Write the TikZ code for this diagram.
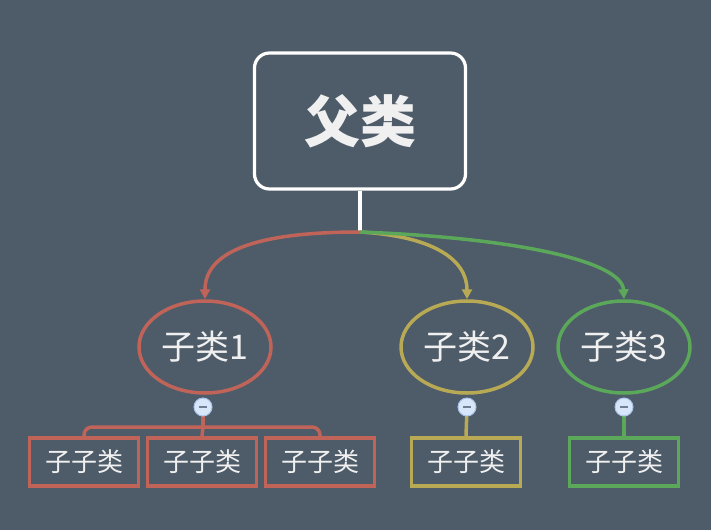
\documentclass[tikz,border=0pt]{standalone}
\usepackage{fontspec}
\newfontfamily\cjk{Noto Sans CJK SC}
\usetikzlibrary{shapes.geometric,arrows.meta,calc}
\definecolor{bg}{HTML}{4E5B68}
\definecolor{cred}{HTML}{C0645A}
\definecolor{cyel}{HTML}{B8AA55}
\definecolor{cgrn}{HTML}{5BA85B}
\definecolor{txt}{HTML}{F0F0F0}
\definecolor{minusfill}{HTML}{D8E6FA}
\definecolor{minusline}{HTML}{A9C2E8}
\definecolor{minusdash}{HTML}{6E7F96}
\begin{document}
\begin{tikzpicture}[x=1pt,y=-1pt,
  parentbox/.style={draw=white,line width=3.2pt,rounded corners=15pt,minimum width=211pt,minimum height=136pt,text=txt,font=\cjk\bfseries\fontsize{56}{64}\selectfont,inner sep=0pt},
  childell/.style={ellipse,line width=3.5pt,minimum width=132pt,minimum height=92pt,text=txt,font=\cjk\fontsize{34}{40}\selectfont,inner sep=0pt},
  leafbox/.style={line width=3.5pt,minimum width=109pt,minimum height=48pt,text=txt,font=\cjk\fontsize{26}{30}\selectfont,inner sep=0pt},
  minus/.style={circle,fill=minusfill,draw=minusline,line width=1pt,minimum size=18pt,inner sep=0pt},
  arr/.style={line width=3.5pt,-{Triangle[length=10pt,width=10pt]}},
  conn/.style={line width=3.5pt}
]
\fill[bg] (0,0) rectangle (711,530);
\useasboundingbox (0,0) rectangle (711,530);

\node[parentbox] (p) at (360,121) {父类};
\coordinate (j) at (360,232);
\draw[white,line width=3.2pt] (p.south) -- (j);

\node[childell,draw=cred] (c1) at (205,347) {子类1};
\node[childell,draw=cyel] (c2) at (467,347) {子类2};
\node[childell,draw=cgrn] (c3) at (624,347) {子类3};

\draw[arr,cyel] (j) .. controls (430,236) and (467,258) .. (c2.north);
\draw[arr,cgrn] (j) .. controls (520,238) and (622,262) .. (c3.north);
\draw[arr,cred] (j) .. controls (260,232) and (205,250) .. (c1.north);

\node[leafbox,draw=cred] (l1) at (84,462) {子子类};
\node[leafbox,draw=cred] (l2) at (202,462) {子子类};
\node[leafbox,draw=cred] (l3) at (320,462) {子子类};
\node[leafbox,draw=cyel] (l4) at (466,462) {子子类};
\node[leafbox,draw=cgrn] (l5) at (624,462) {子子类};

\coordinate (h1) at (203,427);
\draw[conn,cred] (203,407) -- (h1);
\draw[conn,cred,rounded corners=8pt] (l1.north) -- (84,427) -- (320,427) -- (l3.north);
\draw[conn,cred] (h1) -- (l2.north);
\draw[conn,cyel] (467,407) -- (l4.north);
\draw[conn,cgrn] (624,407) -- (l5.north);

\node[minus] (m1) at (203,407) {};
\node[minus] (m2) at (467,407) {};
\node[minus] (m3) at (624,407) {};

\foreach \m in {m1,m2,m3}{
  \draw[minusdash,line width=1.6pt] ($(\m)+(-4,0)$) -- ($(\m)+(4,0)$);
}
\end{tikzpicture}
\end{document}
